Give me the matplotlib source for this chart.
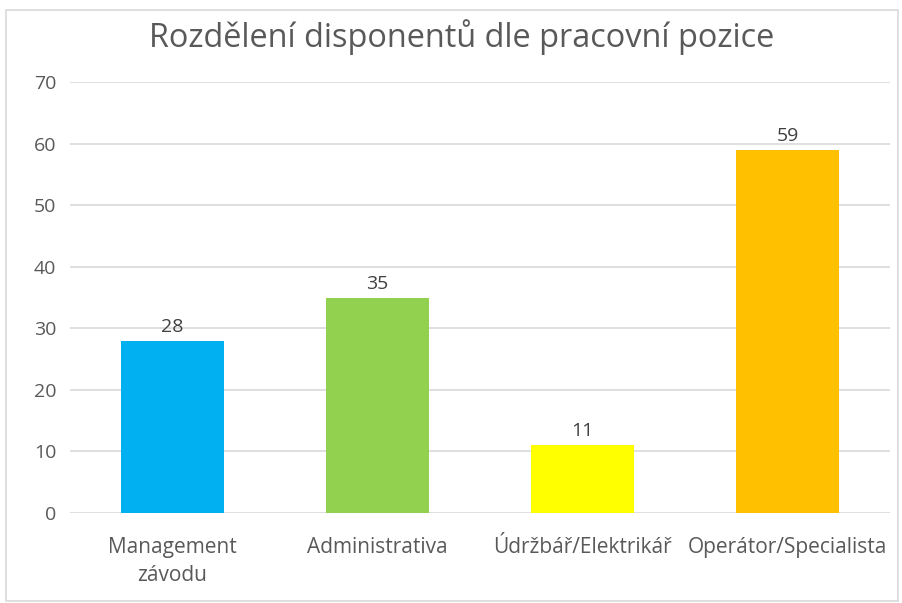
import matplotlib
matplotlib.use("Agg")
import matplotlib.pyplot as plt
from matplotlib.patches import Rectangle

categories = ["Management\nzávodu", "Administrativa", "Údržbář/Elektrikář", "Operátor/Specialista"]
values = [28, 35, 11, 59]
colors = ["#00B0F0", "#92D050", "#FFFF00", "#FFC000"]
yticks = [0, 10, 20, 30, 40, 50, 60, 70]
title = "Rozdělení disponentů dle pracovní pozice"

plt.rcParams['font.family'] = ['Open Sans', 'DejaVu Sans']
txt = "#595959"

fig = plt.figure(figsize=(9.02, 6.03), dpi=100)
ax = fig.add_axes([70/902, 1-513/603, 820/902, (513-82)/603])

x = list(range(len(categories)))
ax.bar(x, values, width=0.5, color=colors, zorder=3)
for xi, v in zip(x, values):
    ax.text(xi, v + 0.8, str(v), ha="center", va="bottom", fontsize=14, color="#404040")

ax.set_xlim(-0.5, len(categories) - 0.5)
ax.set_ylim(0, 70)
ax.set_yticks(yticks)
ax.set_yticklabels([str(t) for t in yticks], fontsize=14, color=txt)
ax.set_xticks(x)
ax.set_xticklabels(categories, fontsize=15, color=txt, linespacing=1.45)
ax.tick_params(axis="x", length=0, pad=17)
ax.tick_params(axis="y", length=0, pad=10)
ax.grid(axis="y", color="#d9d9d9", linewidth=1.2, zorder=0)
for s in ax.spines.values():
    s.set_visible(False)

fig.text(462/902, 1-37/603, title, ha="center", va="center", fontsize=23.4, color=txt)

fig.patches.append(Rectangle((6/902, 0.003), 0.996 - 6/902, 1-10/603 - 0.003,
                             transform=fig.transFigure, fill=False,
                             edgecolor="#d9d9d9", linewidth=1.2))

fig.savefig("out.png", dpi=100)
